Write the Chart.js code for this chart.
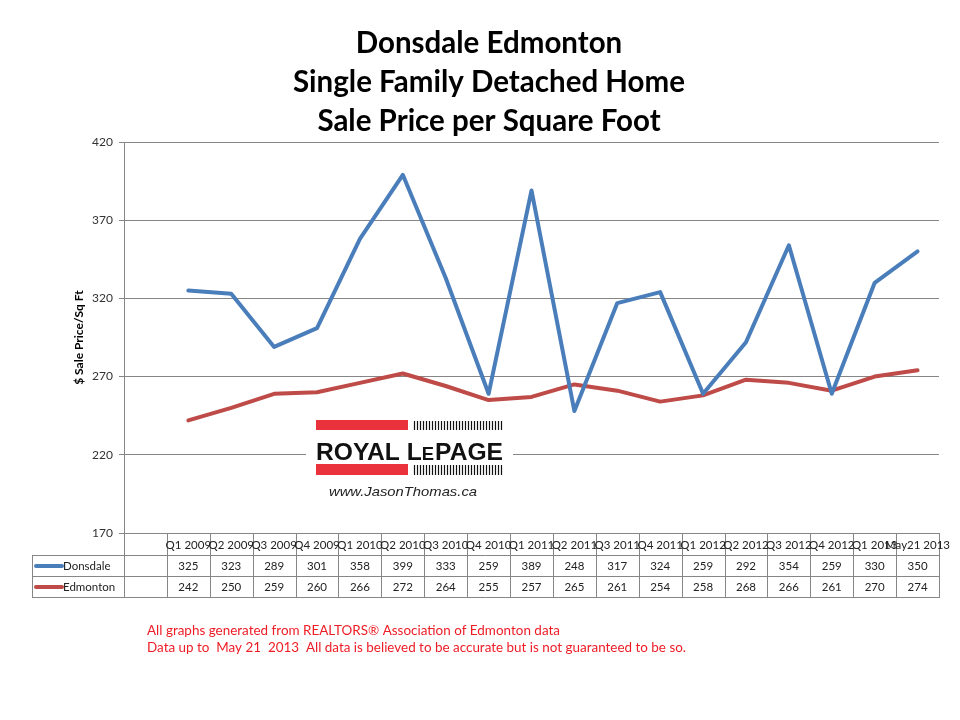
<!DOCTYPE html>
<html><head><meta charset="utf-8">
<script src="https://cdn.jsdelivr.net/npm/chart.js@4/dist/chart.umd.min.js"></script>
<style>html,body{margin:0;padding:0;background:#fff}#wrap{width:960px;height:720px}</style>
</head><body><div id="wrap"><canvas id="c" width="960" height="720"></canvas></div>
<script>
const categories = ['Q1 2009','Q2 2009','Q3 2009','Q4 2009','Q1 2010','Q2 2010','Q3 2010','Q4 2010','Q1 2011','Q2 2011','Q3 2011','Q4 2011','Q1 2012','Q2 2012','Q3 2012','Q4 2012','Q1 2013','May21 2013'];
const donsdale = [325,323,289,301,358,399,333,259,389,248,317,324,259,292,354,259,330,350];
const edmonton = [242,250,259,260,266,272,264,255,257,265,261,254,258,268,266,261,270,274];
const yTicks = [170,220,270,320,370,420];
const seriesNames = ['Donsdale','Edmonton'];
const titleLines = ['Donsdale Edmonton','Single Family Detached Home','Sale Price per Square Foot'];
const yAxisTitle = '$ Sale Price/Sq Ft';
const footerLines = ['All graphs generated from REALTORS\u00AE Association of Edmonton data','Data up to  May 21  2013  All data is believed to be accurate but is not guaranteed to be so.'];

const BLUE = '#4A7EBB', RED = '#BE4B48', GRID = '#868686';
const labels = [''].concat(categories);
const seriesData = [[null].concat(donsdale), [null].concat(edmonton)];
const seriesColors = [BLUE, RED];

function fitText(ctx, text, x, y, targetW, align) {
  const w = ctx.measureText(text).width;
  const s = targetW ? targetW / w : 1;
  ctx.save();
  ctx.translate(x, y);
  ctx.scale(s, 1);
  ctx.textAlign = align || 'left';
  ctx.fillText(text, 0, 0);
  ctx.restore();
}

const decor = {
  id: 'decor',
  beforeDatasetsDraw(chart) {
    const ctx = chart.ctx;
    ctx.save();
    ctx.fillStyle = '#fff';
    ctx.fillRect(306, 414, 207, 88);
    ctx.fillStyle = '#E9323B';
    ctx.fillRect(316, 420, 92, 10);
    ctx.fillRect(316, 464, 92, 11);
    ctx.strokeStyle = '#111';
    ctx.lineWidth = 1.2;
    for (let x = 414; x <= 503; x += 3) {
      ctx.beginPath(); ctx.moveTo(x + 0.5, 421); ctx.lineTo(x + 0.5, 430); ctx.stroke();
      ctx.beginPath(); ctx.moveTo(x + 0.5, 465); ctx.lineTo(x + 0.5, 475); ctx.stroke();
    }
    ctx.fillStyle = '#111';
    ctx.textBaseline = 'alphabetic';
    const big = 'bold 24px "Liberation Sans", Arial, sans-serif';
    const small = 'bold 18px "Liberation Sans", Arial, sans-serif';
    ctx.font = big;
    const p1 = 'ROYAL L', p3 = 'PAGE';
    const w1 = ctx.measureText(p1).width, w3 = ctx.measureText(p3).width;
    ctx.font = small; const w2 = ctx.measureText('E').width;
    const total = w1 + w2 + w3 + 1;
    const s = 187 / total;
    ctx.save();
    ctx.translate(316, 460);
    ctx.scale(s, 1);
    ctx.font = big; ctx.textAlign = 'left';
    ctx.fillText(p1, 0, 0);
    ctx.font = small; ctx.fillText('E', w1, 0);
    ctx.font = big; ctx.fillText(p3, w1 + w2 + 1, 0);
    ctx.restore();
    ctx.font = 'italic 13px "Liberation Sans", Arial, sans-serif';
    ctx.fillStyle = '#222';
    fitText(ctx, 'www.JasonThomas.ca', 329, 496, 148);
    ctx.restore();
  },
  afterDraw(chart) {
    const ctx = chart.ctx;
    const xs = chart.scales.x;
    const ca = chart.chartArea;
    ctx.save();
    ctx.fillStyle = '#000';
    ctx.font = 'bold 29.5px Lato, "Open Sans", sans-serif';
    ctx.textAlign = 'center';
    ctx.textBaseline = 'middle';
    const ty = [43, 82, 121];
    titleLines.forEach((t, i) => ctx.fillText(t, 489, ty[i]));

    const cw = xs.getPixelForValue(1) - xs.getPixelForValue(0);
    const y0 = Math.round(ca.bottom), y1 = y0 + 22, y2 = y1 + 21, y3 = y2 + 21;
    const tl = 32, right = Math.round(ca.right), left = Math.round(ca.left);
    ctx.strokeStyle = GRID; ctx.lineWidth = 1;
    function hl(xa, xb, y) { ctx.beginPath(); ctx.moveTo(xa, y + 0.5); ctx.lineTo(xb, y + 0.5); ctx.stroke(); }
    function vl(x, ya, yb) { ctx.beginPath(); ctx.moveTo(x + 0.5, ya); ctx.lineTo(x + 0.5, yb); ctx.stroke(); }
    hl(tl, right, y1); hl(tl, right, y2); hl(tl, right, y3);
    vl(tl, y1, y3 + 1);
    vl(left, y0, y3 + 1);
    for (let i = 1; i < labels.length; i++) {
      const bx = Math.round(xs.getPixelForValue(i) - cw / 2);
      vl(bx, y0, y3 + 1);
    }
    vl(right, y0, y3 + 1);
    ctx.fillStyle = '#222';
    ctx.font = '11.5px Lato, "Open Sans", sans-serif';
    ctx.textAlign = 'center';
    ctx.textBaseline = 'middle';
    for (let i = 1; i < labels.length; i++) {
      const cx = xs.getPixelForValue(i);
      ctx.fillText(labels[i], cx, (y0 + y1) / 2 + 1);
      ctx.fillText(String(seriesData[0][i]), cx, (y1 + y2) / 2 + 1);
      ctx.fillText(String(seriesData[1][i]), cx, (y2 + y3) / 2 + 1);
    }
    const rows = [(y1 + y2) / 2, (y2 + y3) / 2];
    rows.forEach((ry, k) => {
      ctx.strokeStyle = seriesColors[k];
      ctx.lineWidth = 4; ctx.lineCap = 'round';
      ctx.beginPath(); ctx.moveTo(36, ry + 0.5); ctx.lineTo(62, ry + 0.5); ctx.stroke();
      ctx.fillStyle = '#222';
      ctx.textAlign = 'left';
      ctx.fillText(seriesNames[k], 63, ry + 1);
    });

    ctx.fillStyle = '#EE1C25';
    ctx.font = '14px Lato, "Open Sans", sans-serif';
    ctx.textBaseline = 'middle';
    fitText(ctx, footerLines[0], 147, 630, 413);
    fitText(ctx, footerLines[1], 147, 647, 539);
    ctx.restore();
  }
};

new Chart(document.getElementById('c'), {
  type: 'line',
  data: {
    labels: labels,
    datasets: seriesNames.map((n, k) => ({
      label: n,
      data: seriesData[k],
      borderColor: seriesColors[k],
      backgroundColor: seriesColors[k],
      borderWidth: 4,
      pointRadius: 0,
      tension: 0,
      borderJoinStyle: 'round',
      borderCapStyle: 'round',
      fill: false
    }))
  },
  options: {
    responsive: false,
    devicePixelRatio: 1,
    animation: false,
    layout: { padding: { left: 72, right: 21, top: 142, bottom: 187 } },
    plugins: { legend: { display: false }, tooltip: { enabled: false }, title: { display: false } },
    scales: {
      x: { type: 'category', offset: true, display: false, grid: { display: false } },
      y: {
        min: 170, max: 420,
        afterBuildTicks(scale) { scale.ticks = yTicks.map(v => ({ value: v })); },
        afterFit(scale) { scale.width = 52; },
        grid: { color: GRID, lineWidth: 1, tickLength: 5, drawTicks: true },
        border: { display: true, color: GRID, width: 1 },
        ticks: { padding: 6, color: '#333', font: { family: 'Lato, "Open Sans", sans-serif', size: 12 } },
        title: { display: true, text: yAxisTitle, color: '#000', padding: 0, font: { family: 'Lato, "Open Sans", sans-serif', size: 12, weight: 'bold' } }
      }
    }
  },
  plugins: [decor]
});
</script>
</body></html>
